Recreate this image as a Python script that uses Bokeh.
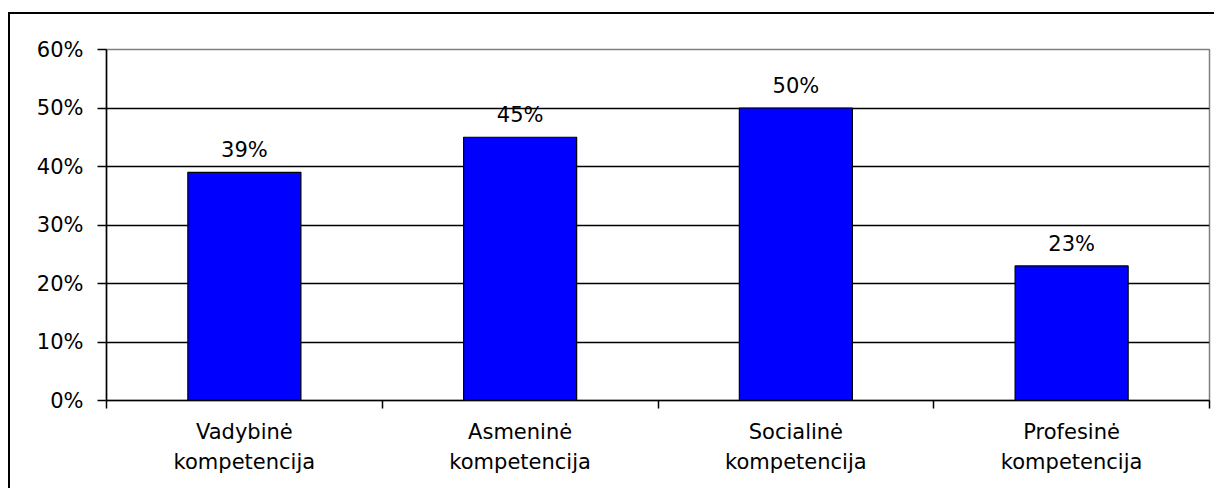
from bokeh.plotting import figure
from bokeh.models import ColumnDataSource, FixedTicker, Range1d
from bokeh.core.properties import value
from bokeh.embed import file_html
from bokeh.resources import INLINE

categories = ["Vadybinė\nkompetencija", "Asmeninė\nkompetencija",
              "Socialinė\nkompetencija", "Profesinė\nkompetencija"]
values = [39, 45, 50, 23]
y_ticks = [0, 10, 20, 30, 40, 50, 60]
y_tick_labels = ["0%", "10%", "20%", "30%", "40%", "50%", "60%"]

FONT = "DejaVu Sans"

xs = [i + 0.5 for i in range(len(categories))]
src = ColumnDataSource(dict(x=xs, top=values,
                            label=[f"{v}%" for v in values]))

p = figure(width=1206, height=476, output_backend="svg", toolbar_location=None,
           x_range=Range1d(0, len(categories)), y_range=Range1d(0, 60),
           min_border_left=96, min_border_right=7, min_border_top=35,
           min_border_bottom=90)
p.styles = {"border-top": "2px solid black", "border-left": "2px solid black",
            "margin-top": "12px", "margin-left": "8px"}

p.vbar(x="x", top="top", bottom=0, width=0.41, source=src,
       fill_color="#0000FF", line_color="black", line_width=1.2)
p.text(x="x", y="top", text="label", source=src, text_align="center",
       text_baseline="middle", y_offset=-22, text_font=value(FONT),
       text_font_size="21px", text_color="black")

# y axis
p.yaxis.ticker = FixedTicker(ticks=y_ticks)
p.yaxis.major_label_overrides = {t: l for t, l in zip(y_ticks, y_tick_labels)}
p.yaxis.major_label_text_font = FONT
p.yaxis.major_label_text_font_size = "21px"
p.yaxis.major_label_text_color = "black"
p.yaxis.major_tick_out = 9
p.yaxis.major_tick_in = 0
p.yaxis.minor_tick_line_color = None
p.yaxis.axis_line_color = "black"
p.yaxis.axis_line_width = 1.5
p.yaxis.major_tick_line_width = 1.5
p.yaxis.major_label_standoff = 14

# x axis
p.xaxis.ticker = FixedTicker(ticks=xs, minor_ticks=list(range(len(categories) + 1)))
p.xaxis.major_label_overrides = {x: c for x, c in zip(xs, categories)}
p.xaxis.major_label_text_font = FONT
p.xaxis.major_label_text_font_size = "21px"
p.xaxis.major_label_text_color = "black"
p.xaxis.major_label_text_line_height = 1.28
p.xaxis.major_tick_line_color = None
p.xaxis.major_tick_out = 0
p.xaxis.major_tick_in = 0
p.xaxis.minor_tick_out = 8
p.xaxis.minor_tick_in = 0
p.xaxis.minor_tick_line_color = "black"
p.xaxis.minor_tick_line_width = 1.5
p.xaxis.axis_line_color = "black"
p.xaxis.axis_line_width = 1.5
p.xaxis.major_label_standoff = 11

p.xgrid.grid_line_color = None
p.ygrid.ticker = FixedTicker(ticks=[10, 20, 30, 40, 50])
p.ygrid.grid_line_color = "black"
p.ygrid.grid_line_width = 1.3

p.outline_line_color = "#808080"
p.outline_line_width = 1.5
p.background_fill_color = "white"
p.border_fill_color = "white"

open("out.html", "w").write(file_html(p, INLINE))
